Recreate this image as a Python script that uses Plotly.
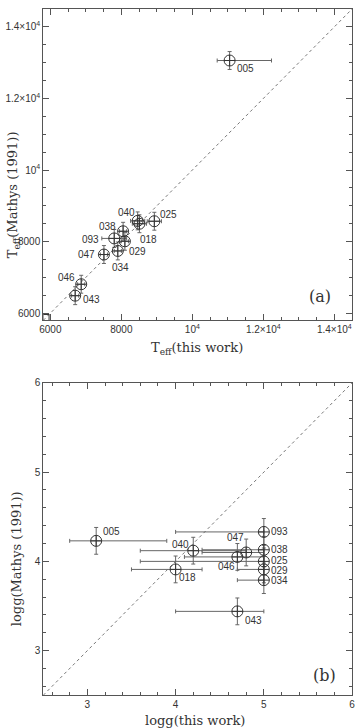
import plotly.graph_objects as go

# ---------------- data ----------------
star_ids = ["005", "040", "018", "025", "038", "093", "029", "034", "047", "046", "043"]

# panel (a): effective temperatures
teff_this = [11050, 8460, 8510, 8930, 8050, 7800, 8100, 7900, 7510, 6870, 6700]
teff_mathys = [13060, 8580, 8500, 8570, 8290, 8090, 8010, 7740, 7640, 6810, 6490]
teff_this_err_plus = [1180, 200, 200, 200, 100, 350, 100, 100, 100, 100, 100]
teff_this_err_minus = [350, 200, 200, 200, 100, 350, 100, 100, 100, 100, 100]
teff_mathys_err = [250, 250, 250, 250, 250, 250, 250, 250, 250, 250, 250]

# panel (b): surface gravities
logg_this = [3.1, 4.2, 4.0, 5.0, 5.0, 5.0, 5.0, 5.0, 4.8, 4.7, 4.7]
logg_mathys = [4.23, 4.12, 3.91, 4.0, 4.13, 4.33, 3.91, 3.79, 4.10, 4.05, 3.44]
logg_this_err_plus = [0.8, 0.6, 0.3, 0.0, 0.0, 0.0, 0.0, 0.0, 0.2, 0.3, 0.3]
logg_this_err_minus = [0.3, 0.6, 0.5, 1.4, 0.7, 1.0, 0.3, 0.3, 0.5, 0.6, 0.7]
logg_mathys_err = [0.15, 0.15, 0.15, 0.15, 0.15, 0.15, 0.15, 0.15, 0.15, 0.15, 0.15]

teff_range = [5800, 14500]
teff_tickvals = [6000, 8000, 10000, 12000, 14000]
teff_ticktext = ["6000", "8000", "10<sup>4</sup>", "1.2×10<sup>4</sup>", "1.4×10<sup>4</sup>"]
logg_range = [2.5, 6.0]
logg_tickvals = [3, 4, 5, 6]
logg_ticktext = ["3", "4", "5", "6"]

# label offsets in pixels (style, not data)
off_a = {"005": (16, -8), "040": (-11, 8), "018": (9, -16), "025": (14, 7), "038": (-16, 5),
         "093": (-24, -1), "029": (13, -10), "034": (3, -17), "047": (-17, 0), "046": (-15, 7),
         "043": (16, -4)}
off_b = {"005": (15, 9), "040": (-13, 6), "018": (12, -8), "025": (16, 1), "038": (16, 0),
         "093": (16, 0), "029": (16, -1), "034": (16, 0), "047": (-11, 15), "046": (-11, -10),
         "043": (16, -9)}

SERIF = "DejaVu Serif"
SANS = "Liberation Sans"
INK = "#333333"
BAR = "#666666"
FRAME = "#555555"

fig = go.Figure()

def add_panel(xv, yv, exp, exm, ey, xa, ya, rng):
    # y = x reference line
    fig.add_trace(go.Scatter(x=rng, y=rng, mode="lines", xaxis=xa, yaxis=ya,
                             line=dict(color="#777777", width=1, dash="dot"),
                             hoverinfo="skip", showlegend=False))
    fig.add_trace(go.Scatter(
        x=xv, y=yv, mode="markers", xaxis=xa, yaxis=ya, showlegend=False,
        marker=dict(symbol="circle-cross-open", size=11, color=INK, line=dict(width=1, color=INK)),
        error_x=dict(type="data", array=exp, arrayminus=exm, symmetric=False,
                     color=BAR, thickness=1, width=2),
        error_y=dict(type="data", array=ey, color=BAR, thickness=1, width=2),
    ))

add_panel(teff_this, teff_mathys, teff_this_err_plus, teff_this_err_minus, teff_mathys_err,
          "x", "y", teff_range)
add_panel(logg_this, logg_mathys, logg_this_err_plus, logg_this_err_minus, logg_mathys_err,
          "x2", "y2", logg_range)

# small corner square in panel (a)
fig.add_trace(go.Scatter(x=[teff_range[0] + 80], y=[teff_range[0] + 80], mode="markers",
                         xaxis="x", yaxis="y", showlegend=False, hoverinfo="skip",
                         marker=dict(symbol="square-open", size=6, color=INK, line=dict(width=1))))

label_font = dict(family=SANS, size=10, color=INK)
annotations = []
for sid, xv, yv in zip(star_ids, teff_this, teff_mathys):
    dx, dy = off_a[sid]
    annotations.append(dict(x=xv, y=yv, xref="x", yref="y", text=sid, showarrow=False,
                            xanchor="center", yanchor="middle",
                            xshift=dx, yshift=dy, font=label_font))
for sid, xv, yv in zip(star_ids, logg_this, logg_mathys):
    dx, dy = off_b[sid]
    annotations.append(dict(x=xv, y=yv, xref="x2", yref="y2", text=sid, showarrow=False,
                            xanchor="center", yanchor="middle",
                            xshift=dx, yshift=dy, font=label_font))

# axis titles and panel tags (positions in pixels of the 360x728 canvas)
title_font = dict(family=SERIF, size=13, color=INK)
tag_font = dict(family=SERIF, size=16, color=INK)

def paper_text(px, py, text, font, angle=0):
    return dict(x=px / 360, y=1 - py / 728, xref="paper", yref="paper", showarrow=False,
                xanchor="center", yanchor="middle", text=text, font=font, textangle=angle)

annotations += [
    paper_text(197, 345, "T<sub>eff</sub>(this work)", title_font),
    paper_text(10, 190, "T<sub>eff</sub>(Mathys (1991))", title_font, -90),
    paper_text(195, 720, "logg(this work)", title_font),
    paper_text(13, 557, "logg(Mathys (1991))", title_font, -90),
    paper_text(322, 293, "(a)", tag_font),
    paper_text(327, 675, "(b)", tag_font),
]

def axis(rng, tickvals, ticktext, dom, minor_dtick, minor_tick0, anchor):
    return dict(range=rng, domain=dom, anchor=anchor, tickmode="array", tickvals=tickvals,
                ticktext=ticktext, ticks="inside", ticklen=6, tickwidth=1, tickcolor=FRAME,
                showline=True, linecolor=FRAME, linewidth=1, mirror="allticks",
                showgrid=False, zeroline=False,
                tickfont=dict(family=SANS, size=10, color=INK),
                minor=dict(dtick=minor_dtick, tick0=minor_tick0, ticks="inside", ticklen=3,
                           tickcolor=FRAME, showgrid=False))

xdom = [40 / 360, 355 / 360]
fig.update_layout(
    width=360, height=728, margin=dict(l=0, r=0, t=0, b=0),
    paper_bgcolor="white", plot_bgcolor="white", showlegend=False,
    xaxis=axis(teff_range, teff_tickvals, teff_ticktext, xdom, 500, 6000, "y"),
    yaxis=axis(teff_range, teff_tickvals, teff_ticktext, [1 - 317 / 728, 1 - 3 / 728], 500, 6000, "x"),
    xaxis2=axis(logg_range, logg_tickvals, logg_ticktext, xdom, 0.2, 3.0, "y2"),
    yaxis2=axis(logg_range, logg_tickvals, logg_ticktext, [1 - 695 / 728, 1 - 380 / 728], 0.2, 3.0, "x2"),
    annotations=annotations,
)

fig.write_html(
    "out.html",
    config={"displayModeBar": False},
    post_script="document.body.style.margin='0';document.body.style.overflow='hidden';",
)
